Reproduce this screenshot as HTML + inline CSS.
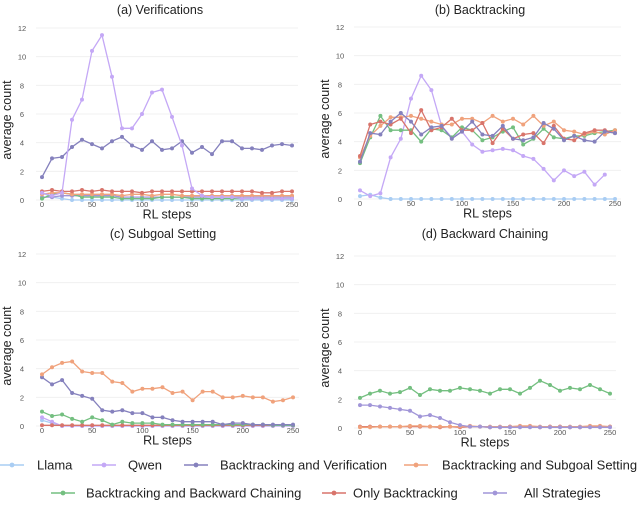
<!DOCTYPE html>
<html><head><meta charset="utf-8"><style>
body{margin:0;background:#fff;font-family:"Liberation Sans",sans-serif}
svg text{font-family:"Liberation Sans",sans-serif}
</style></head><body>
<svg id="chart" width="640" height="505" xmlns="http://www.w3.org/2000/svg"></svg>
<script>
const steps=[0,10,20,30,40,50,60,70,80,90,100,110,120,130,140,150,160,170,180,190,200,210,220,230,240,250];
const yTicks=[0,2,4,6,8,10,12];
const xTicks=[0,50,100,150,200,250];
const seriesNames=["Llama","Qwen","Backtracking and Verification","Backtracking and Subgoal Setting","Backtracking and Backward Chaining","Only Backtracking","All Strategies"];
const seriesColors=["#a9cdf3","#c4a8f6","#8581bd","#f0a27c","#74bf80","#d8746b","#a196d8"];
// panel a
const aLlama=[0.5,0.2,0.1,0,0,0,0,0,0,0,0,0,0,0,0,0,0,0,0,0,0,0,0,0,0,0];
const aQwen=[0.5,0.3,0.5,5.6,7.0,10.4,11.5,8.6,5.0,5.0,6.0,7.5,7.7,5.8,3.8,0.8,0.3,0.2,0.2,0.2,0.1,0.1,0.1,0.1,0.1,0.1];
const aBV=[1.6,2.9,3.0,3.7,4.2,3.9,3.6,4.1,4.4,3.8,3.5,4.1,3.5,3.6,4.1,3.3,3.7,3.2,4.1,4.1,3.6,3.6,3.5,3.8,3.9,3.8];
const aBS=[0.4,0.5,0.5,0.4,0.4,0.4,0.4,0.4,0.3,0.4,0.4,0.3,0.4,0.4,0.3,0.3,0.3,0.3,0.3,0.3,0.3,0.3,0.3,0.3,0.3,0.3];
const aBB=[0.1,0.4,0.5,0.4,0.2,0.2,0.2,0.2,0.1,0.1,0.1,0.1,0.2,0.2,0.2,0.1,0.1,0.1,0.1,0.1,0.1,0.1,0.1,0.1,0.1,0.1];
const aOB=[0.6,0.7,0.6,0.6,0.7,0.6,0.7,0.6,0.6,0.6,0.5,0.6,0.6,0.6,0.6,0.6,0.6,0.6,0.6,0.6,0.6,0.6,0.5,0.5,0.6,0.6];
const aAll=[0.2,0.2,0.3,0.3,0.3,0.3,0.3,0.3,0.2,0.2,0.2,0.2,0.2,0.2,0.2,0.2,0.2,0.2,0.2,0.2,0.2,0.2,0.2,0.2,0.2,0.2];
// panel b
const bLlama=[0.2,0.3,0.1,0,0,0,0,0,0,0,0,0,0,0,0,0,0,0,0,0,0,0,0,0,0,0];
const bQwen=[0.6,0.2,0.4,2.9,4.2,7.0,8.6,7.6,5.1,4.3,4.7,3.8,3.3,3.4,3.5,3.4,3.0,2.8,2.1,1.3,2.0,1.6,1.9,1.0,1.7,null];
const bBV=[2.6,4.6,4.5,5.4,6.0,5.4,4.5,5.0,5.1,4.2,4.7,5.4,4.5,4.4,5.1,4.2,4.1,4.3,5.3,4.9,4.1,4.4,4.1,4.0,4.7,4.6];
const bBS=[2.9,4.4,5.1,5.7,5.7,5.8,5.6,5.4,5.2,5.2,5.6,5.6,5.3,5.8,5.4,5.6,5.2,5.8,5.1,5.4,4.8,4.7,4.5,4.7,4.5,4.8];
const bBB=[2.5,4.3,5.8,4.8,4.8,4.8,4.0,4.9,4.8,4.3,5.0,4.8,4.1,4.3,4.7,5.0,3.8,4.2,4.9,4.3,4.2,4.4,4.4,4.6,4.7,4.8];
const bOB=[3.0,5.2,5.4,5.2,5.6,4.6,6.2,4.8,5.0,5.6,4.8,4.8,5.3,3.9,4.9,4.2,4.5,4.6,3.9,5.1,4.2,4.1,4.6,4.8,4.8,4.6];
// panel c
const cLlama=[0.4,0.2,0,0,0,0,0,0,0,0,0,0,0,0,0,0,0,0,0,0,0,0,0,0,0,0];
const cQwen=[0.6,0.3,0,0,0,0,0,0,0,0,0,0,0,0,0,0,0,0,0,0,0,0,0,0,0,0];
const cBS=[3.6,4.1,4.4,4.5,3.8,3.7,3.7,3.1,3.0,2.4,2.6,2.6,2.7,2.3,2.4,1.8,2.4,2.4,2.0,2.0,2.1,2.0,2.0,1.7,1.8,2.0];
const cAll=[3.4,2.9,3.2,2.3,2.1,1.9,1.1,1.0,1.1,0.9,0.9,0.6,0.6,0.4,0.3,0.3,0.3,0.3,0.1,0.2,0.2,0.1,0.1,0.1,0.1,0.1];
const cBB=[1.0,0.7,0.8,0.5,0.3,0.6,0.4,0.1,0.3,0.2,0.2,0.2,0.1,0.1,0.1,0.1,0.1,0.1,0.1,0.1,0.1,0.1,0.1,0.05,0.05,0.05];
const cOB=[0.05,0.05,0.05,0.05,0.05,0.05,0.05,0.05,0.05,0.05,0.05,0.05,0.05,0.05,0.05,0.05,0.05,0.05,0.05,0.05,0.05,0.05,0.05,0.05,0.05,0.05];
// panel d
const dBB=[2.1,2.4,2.6,2.4,2.5,2.8,2.3,2.7,2.6,2.6,2.8,2.7,2.6,2.4,2.7,2.7,2.4,2.8,3.3,3.0,2.6,2.8,2.7,3.0,2.7,2.4];
const dAll=[1.6,1.6,1.5,1.4,1.3,1.2,0.8,0.9,0.7,0.4,0.2,0.1,0.1,0.05,0.05,0.05,0.05,0.05,0.05,0.05,0.05,0.05,0.05,0.05,0.05,0.05];
const dOB=[0.1,0.1,0.1,0.1,0.1,0.1,0.1,0.1,0.05,0.1,0.05,0.1,0.1,0.05,0.05,0.1,0.1,0.1,0.05,0.1,0.1,0.05,0.05,0.1,0.1,0.1];
const dBS=[0.05,0.05,0.1,0.1,0.1,0.15,0.15,0.1,0.1,0.1,0.1,0.15,0.1,0.1,0.1,0.1,0.15,0.15,0.1,0.1,0.1,0.1,0.1,0.15,0.15,0.1];

const NS="http://www.w3.org/2000/svg";
const svg=document.getElementById('chart');
function mk(tag,attrs,parent){const e=document.createElementNS(NS,tag);for(const k in attrs)e.setAttribute(k,attrs[k]);(parent||svg).appendChild(e);return e;}

const panels=[
 {id:"a",title:"(a) Verifications",x0:42,x1:292,y0:200,y1:28,tx:160,ty:14,ser:[[0,aLlama],[6,aAll],[4,aBB],[3,aBS],[5,aOB],[2,aBV],[1,aQwen]]},
 {id:"b",title:"(b) Backtracking",x0:360,x1:615,y0:199,y1:27,tx:480,ty:14,ser:[[0,bLlama],[1,bQwen],[4,bBB],[3,bBS],[5,bOB],[2,bBV]]},
 {id:"c",title:"(c) Subgoal Setting",x0:42,x1:293,y0:426,y1:254,tx:163,ty:238,ser:[[0,cLlama],[1,cQwen],[5,cOB],[4,cBB],[2,cAll],[3,cBS]]},
 {id:"d",title:"(d) Backward Chaining",x0:360,x1:610,y0:428,y1:256,tx:485,ty:238,ser:[[5,dOB],[3,dBS],[6,dAll],[4,dBB]]}
];
panels.forEach(p=>{
 const g=mk('g',{});
 
 
 const xs=v=>p.x0+(v/250)*(p.x1-p.x0);
 const ys=v=>p.y0-(v/12)*(p.y0-p.y1);
 yTicks.forEach(t=>{
  const l=mk('line',{x1:p.x0-6,x2:p.x1+6,y1:ys(t),y2:ys(t),stroke:"#f0f0f0","stroke-width":1},g);
  
  
  const tx=mk('text',{x:p.x0-20,y:ys(t)+3,"font-size":7.5,fill:"#555","text-anchor":"middle"},g);
  tx.textContent=t;
  
  
 });
 xTicks.forEach(t=>{
  const tx=mk('text',{x:xs(t),y:p.y0+7,"font-size":7.5,fill:"#555","text-anchor":"middle"},g);
  tx.textContent=t;
  
  
 });
 const ti=mk('text',{x:p.tx,y:p.ty,"font-size":12.5,fill:"#222","text-anchor":"middle"},g);
 ti.textContent=p.title;
 
 
 const xt=mk('text',{x:(p.x0+p.x1)/2,y:p.y0+18.5,"font-size":12.5,fill:"#222","text-anchor":"middle"},g);
 xt.textContent="RL steps";
 
 
 const yc=(p.y0+p.y1)/2+6;
 const yt=mk('text',{x:p.x0-31,y:yc,"font-size":12.5,fill:"#222","text-anchor":"middle",transform:`rotate(-90 ${p.x0-31} ${yc})`},g);
 yt.textContent="average count";
 
 
 p.ser.forEach(([si,vals])=>{
  const col=seriesColors[si];
  let d="";
  vals.forEach((v,i)=>{if(v===null)return;d+=(d?"L":"M")+xs(steps[i]).toFixed(1)+","+ys(v).toFixed(1);});
  const path=mk('path',{d:d,fill:"none",stroke:col,"stroke-width":1.3},g);
  
  
  vals.forEach((v,i)=>{if(v===null)return;
   const c=mk('circle',{cx:xs(steps[i]),cy:ys(v),r:2,fill:col},g);
   
   
  });
 });
});
// legend: [series index, marker center x, text x]
const legRows=[[[0,12,37],[1,104,128],[2,196,220],[3,416,442]],[[4,63,86],[5,334,353],[6,495,524]]];
const legY=[465,493];
legRows.forEach((row,ri)=>{
 row.forEach(([si,mx,tx])=>{
  const g=mk('g',{});
  
  
  const col=seriesColors[si];
  const y=legY[ri];
  mk('line',{x1:mx-12,x2:mx+12,y1:y,y2:y,stroke:col,"stroke-width":1.5},g);
  mk('circle',{cx:mx,cy:y,r:2.4,fill:col},g);
  const t=mk('text',{x:tx,y:y+4.5,"font-size":13,fill:"#222",textLength:null},g);
  t.removeAttribute('textLength');
  t.textContent=seriesNames[si];
 });
});
</script>
</body></html>
